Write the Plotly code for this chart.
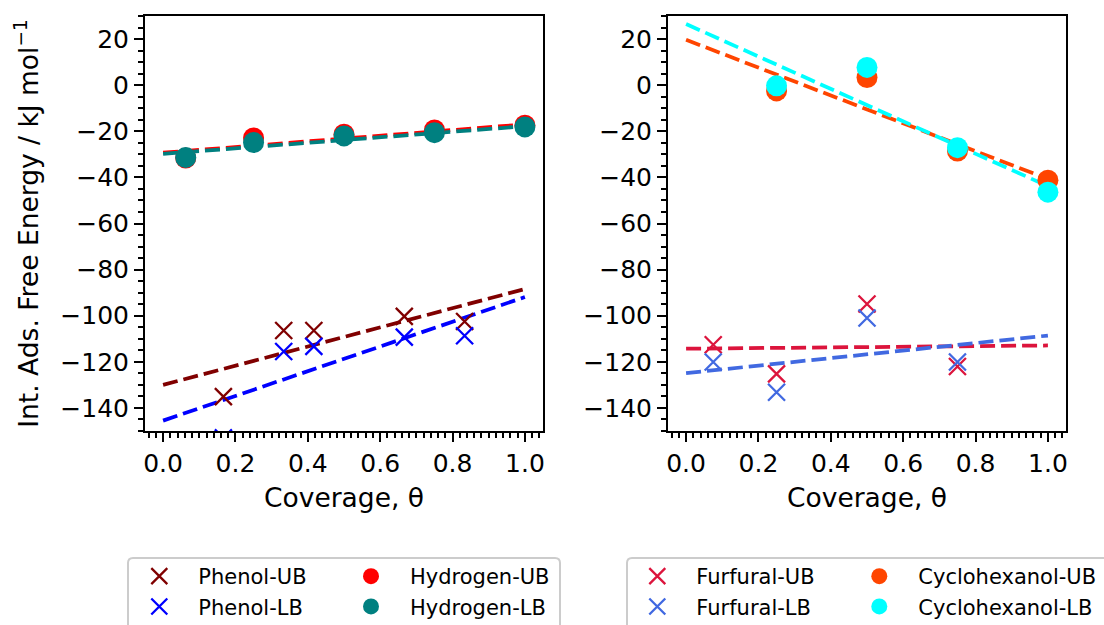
import plotly.graph_objects as go

# ---------------- data ----------------
fit_x = [0.0, 1.0]

phenol_x = [1/6, 1/3, 5/12, 2/3, 5/6]
phenol_ub = [-135.1, -106.4, -106.4, -100.3, -102.5]
phenol_lb = [-153.0, -115.5, -113.3, -109.3, -108.7]
phenol_ub_fit = [-130.0, -88.4]
phenol_lb_fit = [-145.5, -91.9]

hydrogen_x = [0.0625, 0.25, 0.5, 0.75, 1.0]
hydrogen_ub = [-31.6, -22.9, -21.3, -19.4, -17.4]
hydrogen_lb = [-31.4, -24.9, -22.0, -20.6, -18.1]
hydrogen_ub_fit = [-29.3, -17.0]
hydrogen_lb_fit = [-29.8, -17.8]

furfural_x = [0.075, 0.25, 0.5, 0.75]
furfural_ub = [-112.6, -125.2, -94.9, -122.0]
furfural_lb = [-120.1, -133.2, -101.0, -120.1]
furfural_ub_fit = [-114.3, -112.9]
furfural_lb_fit = [-124.9, -108.6]

cyclohexanol_x = [0.25, 0.5, 0.75, 1.0]
cyclohexanol_ub = [-2.5, 3.3, -28.6, -41.2]
cyclohexanol_lb = [-0.3, 7.7, -27.1, -46.4]
cyclohexanol_ub_fit = [19.7, -40.7]
cyclohexanol_lb_fit = [26.5, -43.8]

x_ticks = [0.0, 0.2, 0.4, 0.6, 0.8, 1.0]
y_ticks = [20, 0, -20, -40, -60, -80, -100, -120, -140]

# ---------------- layout geometry (pixels) ----------------
W, H = 1104, 625
ML, MR, MT, MB = 145, 38, 16, 194
PW = W - ML - MR
PH = H - MT - MB


def px(x):
    return (x - ML) / PW


def py(y):
    return (H - MB - y) / PH


FONT = "DejaVu Sans"
DASH = "15px,6px"
LW = 3.75

fig = go.Figure()


def fit_line(y, color, xa, ya):
    fig.add_trace(go.Scatter(x=fit_x, y=y, mode="lines", xaxis=xa, yaxis=ya,
                             line=dict(color=color, width=LW, dash=DASH),
                             showlegend=False, hoverinfo="skip"))


def cross(x, y, name, color, xa, ya, leg):
    fig.add_trace(go.Scatter(x=x, y=y, mode="markers", name=name, xaxis=xa, yaxis=ya,
                             legend=leg,
                             marker=dict(symbol="x-thin", size=17, color=color,
                                         line=dict(color=color, width=2.3))))


def dot(x, y, name, color, xa, ya, leg):
    fig.add_trace(go.Scatter(x=x, y=y, mode="markers", name=name, xaxis=xa, yaxis=ya,
                             legend=leg,
                             marker=dict(symbol="circle", size=21, color=color,
                                         line=dict(width=0))))


# left panel
fit_line(phenol_ub_fit, "#800000", "x", "y")
fit_line(phenol_lb_fit, "#0000FF", "x", "y")
fit_line(hydrogen_ub_fit, "#FF0000", "x", "y")
fit_line(hydrogen_lb_fit, "#008080", "x", "y")
cross(phenol_x, phenol_ub, "Phenol-UB", "#800000", "x", "y", "legend")
cross(phenol_x, phenol_lb, "Phenol-LB", "#0000FF", "x", "y", "legend")
dot(hydrogen_x, hydrogen_ub, "Hydrogen-UB", "#FF0000", "x", "y", "legend2")
dot(hydrogen_x, hydrogen_lb, "Hydrogen-LB", "#008080", "x", "y", "legend2")

# right panel
fit_line(furfural_ub_fit, "#DC143C", "x2", "y2")
fit_line(furfural_lb_fit, "#4169E1", "x2", "y2")
fit_line(cyclohexanol_ub_fit, "#FF4500", "x2", "y2")
fit_line(cyclohexanol_lb_fit, "#00FFFF", "x2", "y2")
cross(furfural_x, furfural_ub, "Furfural-UB", "#DC143C", "x2", "y2", "legend3")
cross(furfural_x, furfural_lb, "Furfural-LB", "#4169E1", "x2", "y2", "legend3")
dot(cyclohexanol_x, cyclohexanol_ub, "Cyclohexanol-UB", "#FF4500", "x2", "y2", "legend4")
dot(cyclohexanol_x, cyclohexanol_lb, "Cyclohexanol-LB", "#00FFFF", "x2", "y2", "legend4")

axis_common = dict(
    showline=True, linecolor="black", linewidth=2, mirror=True,
    ticks="outside", ticklen=9, tickwidth=2, tickcolor="black",
    showgrid=False, zeroline=False,
    tickfont=dict(family=FONT, size=25, color="black"),
)

xa = dict(axis_common, range=[-0.05, 1.05], tickvals=x_ticks,
          ticktext=[f"{v:.1f}" for v in x_ticks],
          minor=dict(dtick=0.02, tick0=0, ticks="outside", ticklen=5, tickwidth=1.5,
                     tickcolor="black", showgrid=False),
          title=dict(text="Coverage, θ", font=dict(family=FONT, size=26.5, color="black"),
                     standoff=11))
ya = dict(axis_common, range=[-150, 30], tickvals=y_ticks,
          minor=dict(dtick=5, tick0=0, ticks="outside", ticklen=5, tickwidth=1.5,
                     tickcolor="black", showgrid=False))

d1 = (543 - ML) / PW
d2 = (668 - ML) / PW

legend_common = dict(
    orientation="v", xanchor="left", yanchor="top", y=py(556),
    bgcolor="rgba(0,0,0,0)", borderwidth=0, itemwidth=68,
    font=dict(family=FONT, size=21, color="black"),
    itemclick=False, itemdoubleclick=False,
)


def rounded_box(x0, y0, x1, y1, r):
    pts = [
        f"M {px(x0 + r)},{py(y0)}",
        f"L {px(x1 - r)},{py(y0)}",
        f"Q {px(x1)},{py(y0)} {px(x1)},{py(y0 + r)}",
        f"L {px(x1)},{py(y1 - r)}",
        f"Q {px(x1)},{py(y1)} {px(x1 - r)},{py(y1)}",
        f"L {px(x0 + r)},{py(y1)}",
        f"Q {px(x0)},{py(y1)} {px(x0)},{py(y1 - r)}",
        f"L {px(x0)},{py(y0 + r)}",
        f"Q {px(x0)},{py(y0)} {px(x0 + r)},{py(y0)}",
        "Z",
    ]
    return " ".join(pts)


shapes = [
    dict(type="path", xref="paper", yref="paper", path=rounded_box(128, 558, 560, 660, 5),
         line=dict(color="#cccccc", width=2), fillcolor="white", layer="below"),
    dict(type="path", xref="paper", yref="paper", path=rounded_box(627, 558, 1130, 660, 5),
         line=dict(color="#cccccc", width=2), fillcolor="white", layer="below"),
]

fig.update_layout(
    width=W, height=H,
    margin=dict(l=ML, r=MR, t=MT, b=MB, autoexpand=False),
    paper_bgcolor="white", plot_bgcolor="white",
    font=dict(family=FONT, color="black"),
    xaxis=dict(xa, domain=[0, d1], anchor="y"),
    yaxis=dict(ya, anchor="x",
               title=dict(text="Int. Ads. Free Energy / kJ mol<sup>−1</sup>",
                          font=dict(family=FONT, size=26.5, color="black"), standoff=14)),
    xaxis2=dict(xa, domain=[d2, 1], anchor="y2"),
    yaxis2=dict(ya, anchor="x2"),
    legend=dict(legend_common, x=px(159.3 - 39)),
    legend2=dict(legend_common, x=px(371 - 39)),
    legend3=dict(legend_common, x=px(657.3 - 39)),
    legend4=dict(legend_common, x=px(879.3 - 39)),
    shapes=shapes,
    showlegend=True,
)

fig.write_html("out.html")
